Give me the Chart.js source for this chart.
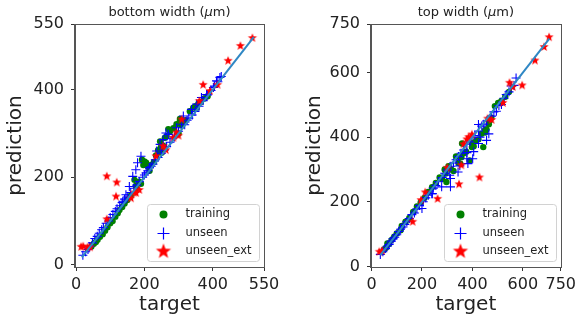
<!DOCTYPE html>
<html>
<head>
<meta charset="utf-8">
<title>prediction vs target</title>
<script src="https://cdn.jsdelivr.net/npm/chart.js@4.4.0/dist/chart.umd.min.js"></script>
<style>
  html, body { margin: 0; padding: 0; background: #fff; overflow: hidden; }
  #wrap { position: relative; width: 576px; height: 326px; }
  canvas { position: absolute; top: 0; }
  #left  { left: 0; }
  #right { left: 286px; }
</style>
</head>
<body>
<div id="wrap">
  <canvas id="left" width="290" height="326"></canvas>
  <canvas id="right" width="294" height="326"></canvas>
</div>
<script>
// ── DATA: [target, prediction] ─────────────────────────────
const bottomTicks = [0, 200, 400, 550];
const bottomDiag  = [[17, 17], [520, 520]];
const bottomTrain = [
  [45,42],[52,48],[58,52],[63,57],[70,64],[78,70],[85,78],[92,86],[100,95],[107,100],
  [115,110],[122,118],[127,125],[135,132],[142,140],[150,148],[160,158],[171,194],[175,180],
  [178,172],[185,190],[190,185],[193,240],[197,228],[200,236],[205,233],[210,225],[215,215],
  [220,228],[228,235],[234,250],[240,262],[246,282],[248,268],[250,256],[255,272],[260,290],
  [265,294],[270,310],[275,305],[285,312],[294,321],[300,300],[304,333],[304,328],[310,318],
  [320,330],[333,351],[343,359],[350,362],[353,359],[358,368],[365,372],[375,380],[385,385]
];
const bottomUnseen = [
  [20,22],[28,30],[35,35],[40,42],[48,50],[55,60],[62,65],[68,72],[75,80],[80,85],[88,95],
  [95,100],[100,108],[108,115],[115,122],[120,128],[128,135],[135,142],[137,145],[142,150],
  [146,160],[150,155],[156,179],[160,165],[166,202],[170,175],[175,217],[178,182],[180,233],
  [185,190],[190,248],[195,200],[200,205],[205,210],[210,215],[215,222],[220,225],[225,230],
  [232,240],[236,260],[240,245],[246,275],[250,255],[255,286],[258,262],[263,301],[265,270],
  [270,298],[275,280],[282,288],[288,292],[294,313],[300,305],[309,321],[314,340],[318,320],
  [325,330],[330,335],[338,355],[340,342],[348,350],[353,367],[360,362],[367,382],[372,375],
  [382,389],[385,388],[395,398],[402,405],[405,408],[411,420],[415,418],[421,428],[425,430]
];
const bottomExt = [
  [15,41],[21,42],[34,40],[41,40],[90,104],[90,202],[117,156],[119,188],[161,152],[170,165],
  [176,164],[185,171],[234,248],[255,271],[263,262],[285,290],[294,302],[300,295],[309,332],
  [361,374],[372,411],[392,397],[414,411],[445,466],[481,500],[516,518]
];

const topTicks = [0, 200, 400, 600, 750];
const topDiag  = [[35, 35], [705, 705]];
const topTrain = [
  [50,52],[58,58],[63,71],[70,70],[80,82],[90,92],[100,102],[115,112],[120,125],[135,138],
  [150,150],[165,168],[180,185],[195,198],[210,212],[225,230],[240,245],[255,258],[270,275],
  [280,270],[290,300],[294,287],[297,261],[305,310],[315,300],[325,295],[335,340],[345,320],
  [352,318],[356,338],[359,380],[365,350],[375,355],[389,328],[398,383],[398,369],[405,372],
  [415,390],[424,393],[435,410],[443,369],[450,414],[450,421],[456,424],[465,440],[469,452],
  [475,460],[489,496],[502,506],[515,512],[530,525],[545,540]
];
const topUnseen = [
  [35,37],[45,45],[55,55],[62,62],[70,68],[78,78],[85,85],[92,90],[100,98],[108,108],
  [115,115],[125,122],[132,130],[140,138],[150,148],[160,160],[170,165],[180,178],[190,188],
  [200,179],[205,200],[215,212],[225,220],[239,225],[241,225],[245,242],[255,250],[265,262],
  [278,246],[280,275],[290,288],[300,298],[310,282],[313,272],[313,246],[315,310],[325,320],
  [335,330],[343,292],[345,340],[350,311],[355,350],[365,360],[378,378],[378,333],[378,352],
  [382,318],[390,385],[398,398],[401,333],[405,355],[410,405],[424,419],[424,380],[424,439],
  [430,400],[437,434],[445,440],[456,450],[456,390],[465,410],[476,465],[485,478],[495,480],
  [505,498],[515,501],[525,520],[534,532],[545,540],[554,558],[565,560],[573,583]
];
const topExt = [
  [31,45],[42,48],[163,138],[196,205],[213,229],[262,209],[300,305],[347,254],[356,313],
  [365,378],[378,393],[385,400],[398,408],[428,275],[460,457],[476,453],[521,506],[547,568],
  [560,555],[597,560],[648,637],[684,679],[704,709]
];

// ── HELPERS ───────────────────────────────────────────────
Chart.defaults.font.family = 'DejaVu Sans';
Chart.defaults.color = '#222';

const toPts = arr => arr.map(([x, y]) => ({ x, y }));

function starImage(r, color) {
  const s = Math.ceil(r * 2 + 2);
  const c = document.createElement('canvas');
  c.width = c.height = s;
  const g = c.getContext('2d');
  g.fillStyle = color;
  g.beginPath();
  for (let i = 0; i < 10; i++) {
    const rad = i % 2 ? r * 0.42 : r;
    const a = -Math.PI / 2 + i * Math.PI / 5;
    g.lineTo(s / 2 + rad * Math.cos(a), s / 2 + rad * Math.sin(a));
  }
  g.closePath();
  g.fill();
  return c;
}

const smallStar = starImage(4.8, 'red');
const bigStar   = starImage(8, 'red');

// spines on all four sides, matplotlib style
const frame = {
  id: 'frame',
  afterDatasetsDraw(chart) {
    const { ctx, chartArea: a } = chart;
    ctx.save();
    ctx.strokeStyle = '#555';
    ctx.lineWidth = 1;
    ctx.strokeRect(Math.round(a.left) - 0.5, Math.round(a.top) + 0.5,
                   Math.round(a.right - a.left) + 1, Math.round(a.bottom - a.top));
    ctx.restore();
  }
};

// title with italic mu + boxed legend in the lower right
function decorations(titleHead) {
  return {
    id: 'decor',
    afterDraw(chart) {
      const { ctx, chartArea: a } = chart;
      ctx.save();

      // title
      const parts = [
        [titleHead, '13px "DejaVu Sans"'],
        ['\u03bc', 'italic 13px "DejaVu Sans"'],
        ['m)', '13px "DejaVu Sans"']
      ];
      let total = 0;
      parts.forEach(([t, f]) => { ctx.font = f; total += ctx.measureText(t).width; });
      let tx = (a.left + a.right) / 2 - total / 2;
      ctx.fillStyle = '#222';
      ctx.textBaseline = 'middle';
      ctx.textAlign = 'left';
      parts.forEach(([t, f]) => {
        ctx.font = f;
        ctx.fillText(t, tx, 12.5);
        tx += ctx.measureText(t).width;
      });

      // legend box
      const w = 112, h = 57;
      const x0 = Math.round(a.right - 5 - w) + 0.5;
      const y0 = Math.round(a.bottom - 6 - h) + 0.5;
      ctx.fillStyle = 'rgba(255,255,255,0.8)';
      ctx.strokeStyle = '#d2d2d2';
      ctx.lineWidth = 1;
      ctx.beginPath();
      ctx.roundRect(x0, y0, w, h, 3);
      ctx.fill();
      ctx.stroke();

      const mx = x0 + 16;
      const rows = [y0 + 10, y0 + 29, y0 + 47];

      ctx.fillStyle = 'green';
      ctx.beginPath();
      ctx.arc(mx, rows[0], 4, 0, Math.PI * 2);
      ctx.fill();

      ctx.strokeStyle = 'blue';
      ctx.lineWidth = 1.2;
      ctx.beginPath();
      ctx.moveTo(mx - 6, rows[1]); ctx.lineTo(mx + 6, rows[1]);
      ctx.moveTo(mx, rows[1] - 6); ctx.lineTo(mx, rows[1] + 6);
      ctx.stroke();

      ctx.drawImage(bigStar, mx - bigStar.width / 2, rows[2] - bigStar.height / 2);

      ctx.fillStyle = '#222';
      ctx.font = '11.5px "DejaVu Sans"';
      ctx.fillText('training', x0 + 38, rows[0]);
      ctx.fillText('unseen', x0 + 38, rows[1]);
      ctx.fillText('unseen_ext', x0 + 38, rows[2]);

      ctx.restore();
    }
  };
}

function makePanel(id, p) {
  new Chart(document.getElementById(id), {
    type: 'scatter',
    data: {
      datasets: [
        {
          data: toPts(p.diag), showLine: true, pointRadius: 0,
          borderColor: '#2f87c4', borderWidth: 2
        },
        { data: toPts(p.ext), pointStyle: smallStar, pointRadius: 5 },
        {
          data: toPts(p.unseen), pointStyle: 'cross', pointRadius: 4.5,
          borderColor: 'blue', borderWidth: 1.1
        },
        {
          data: toPts(p.train), pointStyle: 'circle', pointRadius: 3.2,
          backgroundColor: 'green', borderColor: 'green', borderWidth: 0
        }
      ]
    },
    options: {
      responsive: false,
      animation: false,
      events: [],
      layout: { padding: { top: 24, right: p.padRight, left: 0, bottom: 0 } },
      plugins: { legend: { display: false }, tooltip: { enabled: false } },
      scales: {
        x: {
          type: 'linear', min: p.xMin, max: p.xMax,
          afterBuildTicks: s => { s.ticks = p.ticks.map(v => ({ value: v })); },
          afterFit: s => { s.height = 59; },
          grid: { drawOnChartArea: false, drawTicks: true, tickLength: 4, color: '#333' },
          border: { display: true, color: '#555' },
          ticks: { font: { size: 16 }, color: '#222', padding: 4, maxRotation: 0, autoSkip: false },
          title: { display: true, text: 'target', font: { size: 20 }, color: '#222', padding: { top: 0, bottom: 9 } }
        },
        y: {
          type: 'linear', min: p.yMin, max: p.yMax,
          afterBuildTicks: s => { s.ticks = p.ticks.map(v => ({ value: v })); },
          afterFit: s => { s.width = p.yWidth; },
          grid: { drawOnChartArea: false, drawTicks: true, tickLength: 4, color: '#333' },
          border: { display: true, color: '#555' },
          ticks: { font: { size: 16 }, color: '#222', padding: 7, autoSkip: false },
          title: { display: true, text: 'prediction', font: { size: 20 }, color: '#222', padding: { top: p.yTitlePad, bottom: 0 } }
        }
      }
    },
    plugins: [frame, decorations(p.titleHead)]
  });
}

makePanel('left', {
  titleHead: 'bottom width (',
  diag: bottomDiag, train: bottomTrain, unseen: bottomUnseen, ext: bottomExt,
  ticks: bottomTicks, xMin: -3, xMax: 550, yMin: -5, yMax: 550,
  yWidth: 75, padRight: 26, yTitlePad: 4
});

makePanel('right', {
  titleHead: 'top width (',
  diag: topDiag, train: topTrain, unseen: topUnseen, ext: topExt,
  ticks: topTicks, xMin: -2, xMax: 750, yMin: -2, yMax: 750,
  yWidth: 85, padRight: 17, yTitlePad: 17
});
</script>
</body>
</html>
